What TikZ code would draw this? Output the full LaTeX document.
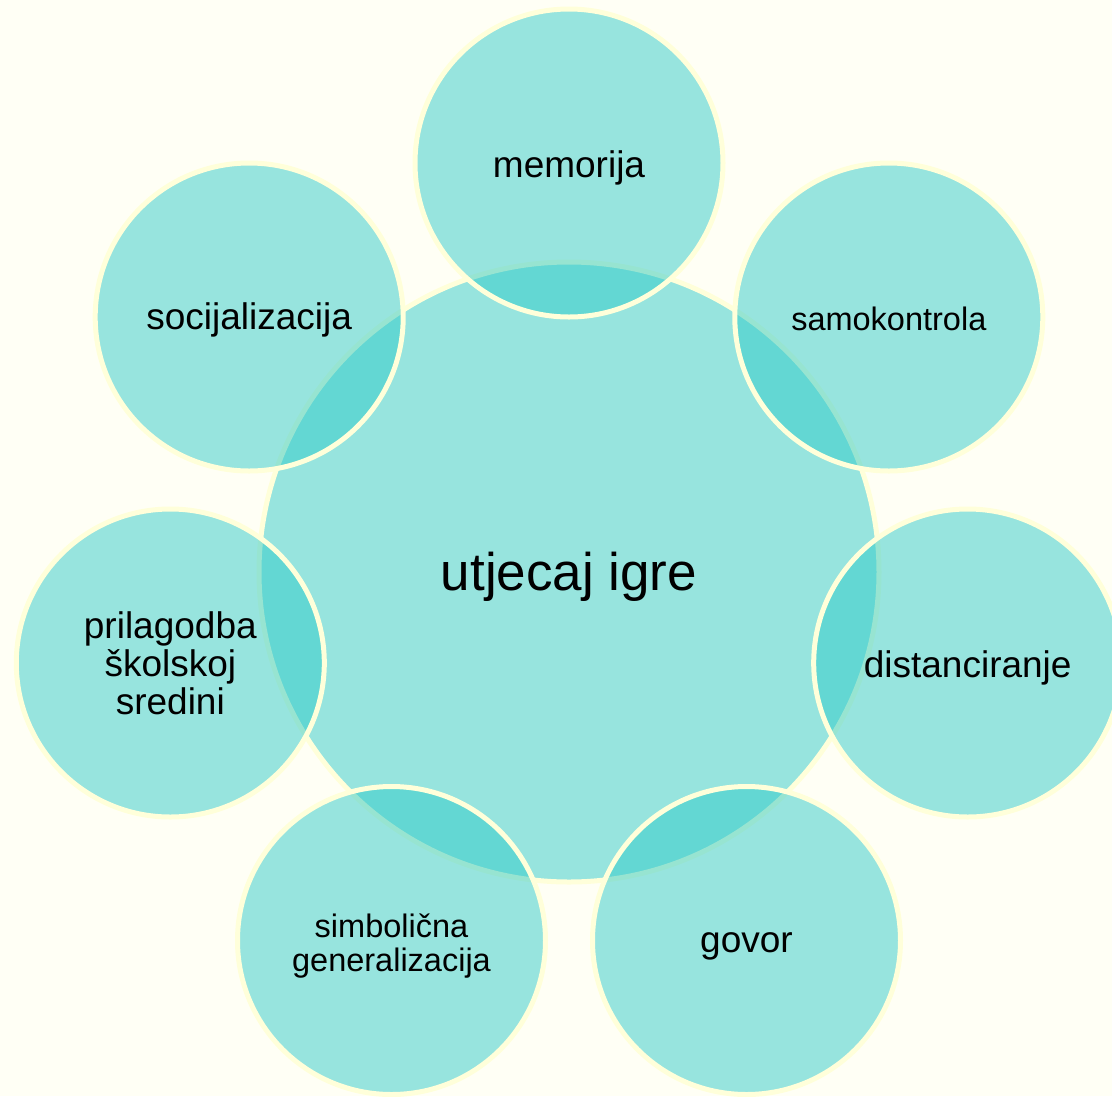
\documentclass[tikz,border=0pt]{standalone}
\usepackage{fontspec}
\setmainfont{Liberation Sans}
\definecolor{bgcol}{HTML}{FFFFF5}
\definecolor{tealfill}{HTML}{31CBC9}
\definecolor{rimcol}{HTML}{FFFFDA}
\tikzset{
  bubble/.style={circle, fill=tealfill, fill opacity=0.5, draw=rimcol, draw opacity=1,
    text opacity=1, line width=5pt, text=black, align=center, inner sep=0pt},
  hub/.style={bubble, minimum size=620pt, font=\fontsize{53}{56}\selectfont},
  sat/.style={bubble, minimum size=308pt, font=\fontsize{37}{38}\selectfont},
  satsmall/.style={sat, font=\fontsize{32.5}{34}\selectfont}
}
\begin{document}
\begin{tikzpicture}[x=1pt,y=-1pt]
\fill[bgcol] (0,0) rectangle (1112,1096);
\useasboundingbox (0,0) rectangle (1112,1096);
\clip (0,0) rectangle (1112,1096);
\node[hub] (hub) at (569,572) {};
\node[sat] (mem) at (569,163) {};
\node[satsmall] (samo) at (888.8,317) {};
\node[sat] (dist) at (967.7,663) {};
\node[sat] (gov) at (746.5,940.5) {};
\node[satsmall] (simb) at (391.5,940.5) {};
\node[sat] (pril) at (170.3,663) {};
\node[sat] (soc) at (249.2,317) {};
\begin{scope}[every node/.style={align=center, text=black}]
\node[font=\fontsize{53}{56}\selectfont, yshift=-5pt] (hubtxt) at (hub.center) {utjecaj igre};
\node[font=\fontsize{37}{38}\selectfont, yshift=-5pt] (memtxt) at (mem.center) {memorija};
\node[font=\fontsize{32.5}{34}\selectfont, yshift=-2pt] (samotxt) at (samo.center) {samokontrola};
\node[font=\fontsize{37}{38}\selectfont, yshift=-5pt] (disttxt) at (dist.center) {distanciranje};
\node[font=\fontsize{37}{38}\selectfont, yshift=-6pt] (govtxt) at (gov.center) {govor};
\node[font=\fontsize{32.5}{34}\selectfont, yshift=-6pt] (simbtxt) at (simb.center) {simbolična\\generalizacija};
\node[font=\fontsize{37}{38}\selectfont] (priltxt) at (pril.center) {prilagodba\\školskoj\\sredini};
\node[font=\fontsize{37}{38}\selectfont, yshift=-3pt] (soctxt) at (soc.center) {socijalizacija};
\end{scope}
\end{tikzpicture}
\end{document}
